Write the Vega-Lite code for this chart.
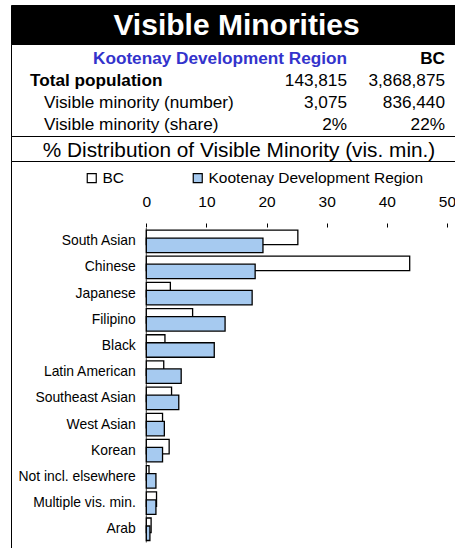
{
  "$schema": "https://vega.github.io/schema/vega-lite/v6.json",
  "padding": {"left": 10, "right": 0, "top": 4, "bottom": 1},
  "spacing": 0,
  "bounds": "flush",
  "config": {"font": "Liberation Sans", "view": {"stroke": null}},
  "datasets": {
    "table": [
      {"row": "header", "col": "kdr", "text": "Kootenay Development Region"},
      {"row": "header", "col": "bc", "text": "BC"},
      {"row": "Total population", "col": "label", "text": "Total population"},
      {"row": "Total population", "col": "kdr", "text": "143,815"},
      {"row": "Total population", "col": "bc", "text": "3,868,875"},
      {"row": "Visible minority (number)", "col": "sublabel", "text": "Visible minority (number)"},
      {"row": "Visible minority (number)", "col": "kdr", "text": "3,075"},
      {"row": "Visible minority (number)", "col": "bc", "text": "836,440"},
      {"row": "Visible minority (share)", "col": "sublabel", "text": "Visible minority (share)"},
      {"row": "Visible minority (share)", "col": "kdr", "text": "2%"},
      {"row": "Visible minority (share)", "col": "bc", "text": "22%"}
    ],
    "bars": [
      {"category": "South Asian", "series": "BC", "value": 25.2},
      {"category": "Chinese", "series": "BC", "value": 43.8},
      {"category": "Japanese", "series": "BC", "value": 4.0},
      {"category": "Filipino", "series": "BC", "value": 7.7},
      {"category": "Black", "series": "BC", "value": 3.1},
      {"category": "Latin American", "series": "BC", "value": 2.9},
      {"category": "Southeast Asian", "series": "BC", "value": 4.2},
      {"category": "West Asian", "series": "BC", "value": 2.7},
      {"category": "Korean", "series": "BC", "value": 3.8},
      {"category": "Not incl. elsewhere", "series": "BC", "value": 0.45},
      {"category": "Multiple vis. min.", "series": "BC", "value": 1.7},
      {"category": "Arab", "series": "BC", "value": 0.8},
      {"category": "South Asian", "series": "Kootenay Development Region", "value": 19.4},
      {"category": "Chinese", "series": "Kootenay Development Region", "value": 18.1},
      {"category": "Japanese", "series": "Kootenay Development Region", "value": 17.6},
      {"category": "Filipino", "series": "Kootenay Development Region", "value": 13.1},
      {"category": "Black", "series": "Kootenay Development Region", "value": 11.3},
      {"category": "Latin American", "series": "Kootenay Development Region", "value": 5.8},
      {"category": "Southeast Asian", "series": "Kootenay Development Region", "value": 5.4},
      {"category": "West Asian", "series": "Kootenay Development Region", "value": 3.0},
      {"category": "Korean", "series": "Kootenay Development Region", "value": 2.7},
      {"category": "Not incl. elsewhere", "series": "Kootenay Development Region", "value": 1.6},
      {"category": "Multiple vis. min.", "series": "Kootenay Development Region", "value": 1.6},
      {"category": "Arab", "series": "Kootenay Development Region", "value": 0.6}
    ]
  },
  "vconcat": [
    {
      "width": 445,
      "height": 39,
      "view": {"fill": "black", "stroke": "black"},
      "data": {"values": [{"title": "Visible Minorities"}]},
      "mark": {"type": "text", "color": "white", "fontSize": 30, "fontWeight": "bold", "baseline": "middle", "dx": 3, "dy": 1},
      "encoding": {"text": {"field": "title"}}
    },
    {
      "width": 445,
      "height": 92,
      "view": {"stroke": "black", "strokeWidth": 1},
      "data": {"name": "table"},
      "encoding": {
        "y": {"field": "row", "type": "nominal", "axis": null,
              "scale": {"type": "band", "domain": ["header", "Total population", "Visible minority (number)", "Visible minority (share)"], "paddingInner": 0, "paddingOuter": 0.09, "align": 1}},
        "text": {"field": "text"}
      },
      "layer": [
        {"transform": [{"filter": "datum.row === 'header' && datum.col === 'kdr'"}],
         "mark": {"type": "text", "align": "right", "baseline": "middle", "fontSize": 17.2, "fontWeight": "bold", "color": "#3333cc", "dx": 113.5}},
        {"transform": [{"filter": "datum.row === 'header' && datum.col === 'bc'"}],
         "mark": {"type": "text", "align": "right", "baseline": "middle", "fontSize": 17.2, "fontWeight": "bold", "color": "black", "dx": 211.5}},
        {"transform": [{"filter": "datum.col === 'label'"}],
         "mark": {"type": "text", "align": "left", "baseline": "middle", "fontSize": 17.2, "fontWeight": "bold", "color": "black", "dx": -203.5}},
        {"transform": [{"filter": "datum.col === 'sublabel'"}],
         "mark": {"type": "text", "align": "left", "baseline": "middle", "fontSize": 17.2, "color": "black", "dx": -189.5}},
        {"transform": [{"filter": "datum.row !== 'header' && datum.col === 'kdr'"}],
         "mark": {"type": "text", "align": "right", "baseline": "middle", "fontSize": 17.2, "color": "black", "dx": 113.5}},
        {"transform": [{"filter": "datum.row !== 'header' && datum.col === 'bc'"}],
         "mark": {"type": "text", "align": "right", "baseline": "middle", "fontSize": 17.2, "color": "black", "dx": 211.5}}
      ]
    },
    {
      "width": 445,
      "height": 25,
      "view": {"stroke": "black"},
      "data": {"values": [{"subtitle": "% Distribution of Visible Minority (vis. min.)"}]},
      "mark": {"type": "text", "fontSize": 20.8, "baseline": "middle", "dx": 5.5, "dy": 2.5, "color": "black"},
      "encoding": {"text": {"field": "subtitle"}}
    },
    {
      "width": 445,
      "height": 387,
      "view": {"stroke": "black"},
      "data": {"name": "bars"},
      "encoding": {
        "x": {"field": "value", "type": "quantitative",
              "scale": {"domain": [-22.5, 51.5], "nice": false, "zero": false},
              "axis": {"orient": "top", "offset": -66, "values": [0, 10, 20, 30, 40, 50], "domain": false, "grid": false, "tickSize": 4, "tickColor": "black", "labelFontSize": 15.5, "labelColor": "black", "labelPadding": 14, "title": null, "zindex": 2}},
        "y": {"field": "category", "type": "nominal", "sort": null,
              "scale": {"type": "band", "domain": [" ", "South Asian", "Chinese", "Japanese", "Filipino", "Black", "Latin American", "Southeast Asian", "West Asian", "Korean", "Not incl. elsewhere", "Multiple vis. min.", "Arab"], "paddingInner": 0, "paddingOuter": 0.891, "align": 0.879},
              "axis": {"orient": "left", "offset": -135.3, "domain": false, "ticks": false, "labelPadding": 11, "labelFontSize": 13.9, "labelColor": "black", "title": null, "labelLimit": 300, "zindex": 2}}
      },
      "layer": [
        {
          "transform": [{"filter": "datum.series === 'BC'"}],
          "mark": {"type": "bar", "height": 14.5, "yOffset": -4, "stroke": "black", "strokeWidth": 1.3},
          "encoding": {
            "color": {"field": "series", "type": "nominal",
                      "scale": {"domain": ["BC", "Kootenay Development Region"], "range": ["white", "#a6caf0"]},
                      "legend": {"orient": "none", "legendX": 73, "legendY": 165, "direction": "horizontal", "title": null, "symbolType": "square", "symbolSize": 81, "symbolStrokeColor": "black", "symbolStrokeWidth": 1.2, "labelFontSize": 15.5, "labelColor": "black", "labelLimit": 400, "columnPadding": 65, "labelOffset": 3}}
          }
        },
        {
          "transform": [{"filter": "datum.series !== 'BC'"}],
          "mark": {"type": "bar", "height": 14.5, "yOffset": 4, "stroke": "black", "strokeWidth": 1.3},
          "encoding": {
            "color": {"field": "series", "type": "nominal"}
          }
        },
        {
          "transform": [{"filter": "datum.series === 'BC'"}],
          "mark": {"type": "tick", "orient": "vertical", "color": "black", "thickness": 1, "size": 26.6},
          "encoding": {
            "x": {"datum": 0}
          }
        },
        {
          "data": {"values": [{}]},
          "mark": {"type": "rule", "color": "black", "strokeWidth": 1, "yOffset": -1.2},
          "encoding": {
            "x": {"datum": 0},
            "x2": {"datum": 50},
            "y": {"datum": "South Asian", "bandPosition": 0}
          }
        }
      ]
    }
  ]
}
